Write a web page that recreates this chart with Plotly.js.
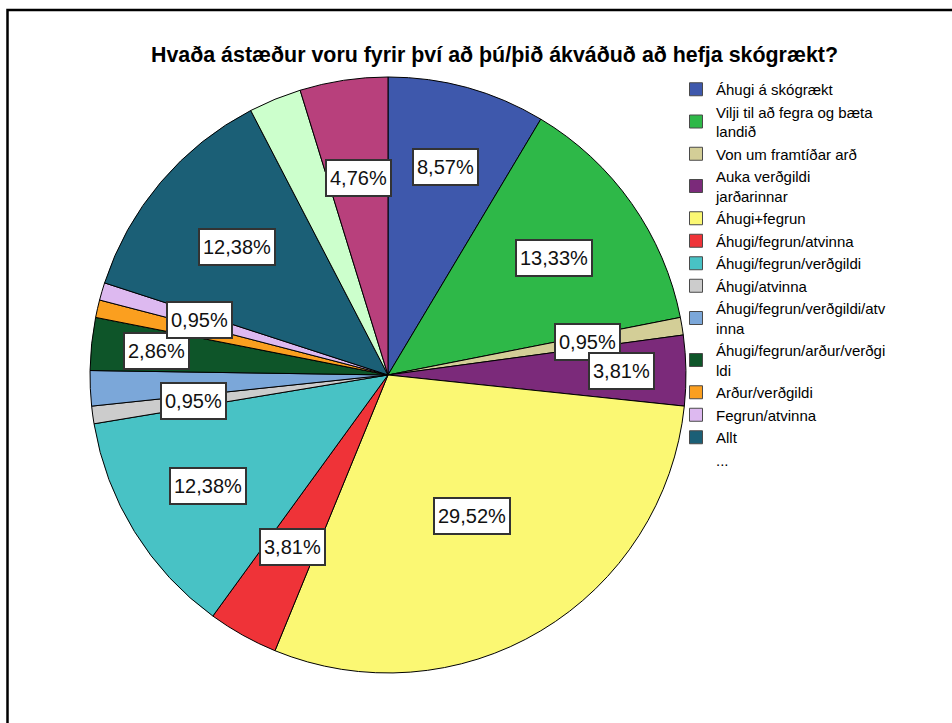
<!DOCTYPE html>
<html><head><meta charset="utf-8">
<script src="https://cdn.plot.ly/plotly-3.0.1.min.js"></script>
<style>html,body{margin:0;padding:0;background:#fff}#chart{width:952px;height:723px}</style>
</head><body><div id="chart"></div>
<script>
// ---- data ----
const titleText = 'Hvaða ástæður voru fyrir því að þú/þið ákváðuð að hefja skógrækt?';
const categories = ['Áhugi á skógrækt', 'Vilji til að fegra og bæta landið', 'Von um framtíðar arð',
  'Auka verðgildi jarðarinnar', 'Áhugi+fegrun', 'Áhugi/fegrun/atvinna', 'Áhugi/fegrun/verðgildi',
  'Áhugi/atvinna', 'Áhugi/fegrun/verðgildi/atvinna', 'Áhugi/fegrun/arður/verðgildi', 'Arður/verðgildi',
  'Fegrun/atvinna', 'Allt', '…', '… '];
const counts = [9, 14, 1, 4, 31, 4, 13, 1, 2, 3, 1, 1, 13, 3, 5];
const legendLabels = ['Áhugi á skógrækt', 'Vilji til að fegra og bæta<br>landið', 'Von um framtíðar arð',
  'Auka verðgildi<br>jarðarinnar', 'Áhugi+fegrun', 'Áhugi/fegrun/atvinna', 'Áhugi/fegrun/verðgildi',
  'Áhugi/atvinna', 'Áhugi/fegrun/verðgildi/atv<br>inna', 'Áhugi/fegrun/arður/verðgi<br>ldi',
  'Arður/verðgildi', 'Fegrun/atvinna', 'Allt', '...'];
const showPct = [1, 1, 1, 1, 1, 1, 1, 1, 0, 1, 0, 1, 1, 0, 1];

// ---- style ----
const colors = ['#3E58AC', '#2EB848', '#D3CE97', '#7B2A7A', '#FBF873', '#EF3338', '#48C2C5',
  '#CCCCCC', '#7BA7D9', '#0E5529', '#FB9F1F', '#DDB9F0', '#1B5F76', '#CCFFCC', '#B8407C'];
const labelRadius = [0.725, 0.68, 0.68, 0.785, 0.55, 0.66, 0.71, 0.66, 0.67, 0.78, 0.67, 0.66, 0.665, 0.67, 0.67];
const W = 952, H = 723;
const dom = {x: [0.0945, 0.7206], y: [0.0692, 0.8935]};
const FONT = 'Liberation Sans, Arial, sans-serif';

const total = counts.reduce((a, b) => a + b, 0);
const R = Math.min((dom.x[1] - dom.x[0]) * W, (dom.y[1] - dom.y[0]) * H) / 2;
const cx = (dom.x[0] + dom.x[1]) / 2 * W;
const cy = (1 - (dom.y[0] + dom.y[1]) / 2) * H;

const traces = [{
  type: 'pie', labels: categories, values: counts, sort: false, direction: 'clockwise', rotation: 0,
  marker: {colors: colors, line: {color: '#000', width: 1}}, textinfo: 'none', hoverinfo: 'label+percent',
  domain: dom, showlegend: false
}];
legendLabels.forEach((name, i) => {
  const isDots = name === '...';
  traces.push({
    type: 'scatter', mode: 'markers', x: [null], y: [null], name: name, legendgroup: 'g' + i,
    marker: {symbol: 'square', size: 13, color: isDots ? 'rgba(0,0,0,0)' : colors[i],
      line: {color: isDots ? 'rgba(0,0,0,0)' : '#4a4a4a', width: 1}},
    hoverinfo: 'skip'
  });
});

const annotations = [];
let cum = 0;
counts.forEach((v, i) => {
  const mid = (cum + v / 2) / total * 2 * Math.PI;
  cum += v;
  if (!showPct[i]) return;
  const px = cx + labelRadius[i] * R * Math.sin(mid);
  const py = cy - labelRadius[i] * R * Math.cos(mid);
  const txt = (v / total * 100).toFixed(2).replace('.', ',') + '%';
  annotations.push({xref: 'paper', yref: 'paper', x: px / W, y: 1 - py / H, xanchor: 'center', yanchor: 'middle',
    showarrow: false, text: txt, height: 28, borderpad: 3, borderwidth: 2,
    bgcolor: '#ffffff', bordercolor: '#333333',
    font: {family: FONT, size: 20, color: '#111'}});
});

const layout = {
  width: W, height: H, margin: {l: 0, r: 0, t: 0, b: 0},
  paper_bgcolor: '#fff', plot_bgcolor: '#fff',
  title: {text: titleText, x: 494.5 / W, xanchor: 'center', y: 1 - 55 / H, yanchor: 'middle',
    font: {family: FONT, size: 21.4, weight: 'bold', color: '#000'}},
  xaxis: {visible: false}, yaxis: {visible: false},
  showlegend: true,
  legend: {x: 676 / W, xanchor: 'left', y: 1 - 73 / H, yanchor: 'top', tracegroupgap: 0,
    font: {family: FONT, size: 15, color: '#000'},
    bgcolor: 'rgba(0,0,0,0)', borderwidth: 0},
  annotations: annotations,
  shapes: [{type: 'rect', xref: 'paper', yref: 'paper', x0: 7.5 / W, x1: 1.02, y0: -0.02, y1: 1 - 10 / H,
    line: {color: '#000', width: 2.5}, fillcolor: 'rgba(0,0,0,0)', layer: 'above'}]
};
Plotly.newPlot('chart', traces, layout, {displayModeBar: false, staticPlot: true});
</script></body></html>
